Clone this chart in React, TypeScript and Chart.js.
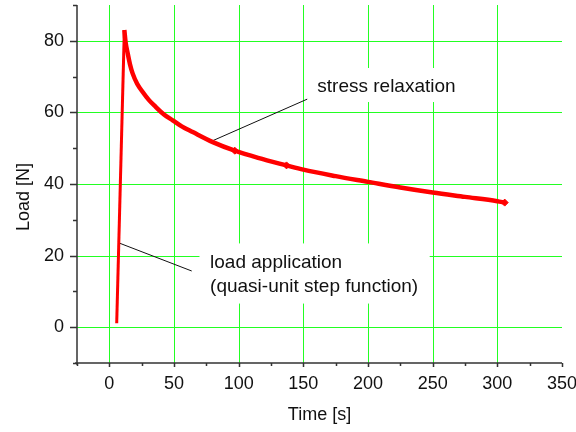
import React, { useEffect, useRef } from "react";
import { Chart, registerables } from "chart.js";

Chart.register(...registerables);

// ---- data ----
const riseTime = [5.7, 11.6];
const riseLoad = [1.1, 83.0];

const decayTime = [11.6, 12.6, 14.2, 16, 18, 21.5, 25.8, 30.5, 36, 42, 49, 56, 64.5, 80, 97, 115, 137, 150, 175, 200, 225, 250, 275, 300, 305.7];
const decayLoad = [83.0, 79.5, 76.5, 73.4, 70.9, 68.0, 65.7, 63.5, 61.5, 59.5, 57.8, 56.1, 54.5, 51.7, 49.3, 47.3, 45.2, 44.0, 42.2, 40.6, 39.0, 37.6, 36.4, 35.2, 34.8];

const markerTime = [97, 137, 305.7];
const markerLoad = [49.3, 45.2, 34.8];

const xMin = -25;
const xMax = 350;
const yMin = -10;
const yMax = 90;
const xMajor = [0, 50, 100, 150, 200, 250, 300];
const yMajor = [0, 20, 40, 60, 80];

const xTitle = "Time [s]";
const yTitle = "Load [N]";

const noteRelaxation = "stress relaxation";
const noteLoad = ["load application", "(quasi-unit step function)"];

const FONT = "'Liberation Sans', Arial, sans-serif";
const GRID = "#22ff22";
const AXIS = "#333333";

const toPts = (xs: number[], ys: number[]) => xs.map((x, i) => ({ x, y: ys[i] }));

const annotationPlugin = {
  id: "annotations",
  beforeDatasetsDraw(chart: any) {
    const { ctx, scales, chartArea } = chart;
    const xs = scales.x;
    const ys = scales.y;
    const px = (v: number) => xs.getPixelForValue(v);
    const py = (v: number) => ys.getPixelForValue(v);
    ctx.save();
    // grid
    ctx.strokeStyle = GRID;
    ctx.lineWidth = 1;
    ctx.beginPath();
    xMajor.forEach((v) => {
      const x = Math.round(px(v)) + 0.5;
      ctx.moveTo(x, chartArea.top);
      ctx.lineTo(x, chartArea.bottom);
    });
    yMajor.forEach((v) => {
      const y = Math.round(py(v)) + 0.5;
      ctx.moveTo(chartArea.left, y);
      ctx.lineTo(chartArea.right, y);
    });
    ctx.stroke();

    // white boxes behind notes
    ctx.fillStyle = "#ffffff";
    ctx.fillRect(px(69.7), py(23.4), px(247.7) - px(69.7), py(6.6) - py(23.4));
    ctx.fillRect(px(151.7), py(72.4), px(278.6) - px(151.7), py(62.9) - py(72.4));
    // text
    ctx.fillStyle = "#111111";
    ctx.font = `19px ${FONT}`;
    ctx.textBaseline = "middle";
    ctx.textAlign = "left";
    ctx.fillText(noteRelaxation, px(160.8), py(67.1));
    ctx.fillText(noteLoad[0], px(77.9), py(17.9));
    ctx.fillText(noteLoad[1], px(77.9), py(11.2));
    // pointer lines
    ctx.strokeStyle = "#111111";
    ctx.lineWidth = 1;
    ctx.beginPath();
    ctx.moveTo(px(7.7), py(23.5));
    ctx.lineTo(px(63.7), py(15.7));
    ctx.moveTo(px(78.7), py(51.9));
    ctx.lineTo(px(153), py(63.7));
    ctx.stroke();

    // axes lines
    ctx.strokeStyle = AXIS;
    ctx.lineWidth = 1.5;
    ctx.beginPath();
    ctx.moveTo(chartArea.left, chartArea.top);
    ctx.lineTo(chartArea.left, chartArea.bottom + 2);
    ctx.moveTo(chartArea.left - 2, chartArea.bottom);
    ctx.lineTo(chartArea.right, chartArea.bottom);
    // tick marks (outward)
    xs.ticks.forEach((t: any) => {
      const x = Math.round(px(t.value)) + 0.5;
      const major = t.value % 50 === 0;
      ctx.moveTo(x, chartArea.bottom);
      ctx.lineTo(x, chartArea.bottom + (major ? 4 : 3));
    });
    ys.ticks.forEach((t: any) => {
      const y = Math.round(py(t.value)) + 0.5;
      const major = t.value % 20 === 0;
      ctx.moveTo(chartArea.left, y);
      ctx.lineTo(chartArea.left - (major ? 7 : 4), y);
    });
    ctx.stroke();

    // y title
    ctx.fillStyle = "#111111";
    ctx.font = `18px ${FONT}`;
    ctx.textAlign = "center";
    ctx.textBaseline = "middle";
    ctx.translate(24, (chartArea.top + chartArea.bottom) / 2 + 13);
    ctx.rotate(-Math.PI / 2);
    ctx.fillText(yTitle, 0, 0);
    ctx.restore();
  },
};

export default function App() {
  const ref = useRef<HTMLCanvasElement | null>(null);
  useEffect(() => {
    if (!ref.current) return;
    const chart = new Chart(ref.current, {
      type: "scatter",
      data: {
        datasets: [
          {
            data: toPts(riseTime, riseLoad),
            showLine: true,
            borderColor: "#ff0000",
            backgroundColor: "#ff0000",
            borderWidth: 3,
            pointRadius: 0,
            tension: 0,
          },
          {
            data: toPts(decayTime, decayLoad),
            showLine: true,
            borderColor: "#ff0000",
            backgroundColor: "#ff0000",
            borderWidth: 4.5,
            pointRadius: 0,
            cubicInterpolationMode: "monotone",
            borderJoinStyle: "round",
          },
          {
            data: toPts(markerTime, markerLoad),
            showLine: false,
            borderColor: "#ff0000",
            backgroundColor: "#ff0000",
            pointStyle: "rectRot",
            pointRadius: 3.5,
            borderWidth: 1,
          },
        ],
      },
      options: {
        responsive: false,
        animation: false,
        devicePixelRatio: 1,
        layout: { padding: { top: 5, right: 14, left: 0, bottom: 0 } },
        plugins: {
          legend: { display: false },
          tooltip: { enabled: false },
        },
        scales: {
          x: {
            type: "linear",
            min: xMin,
            max: xMax,
            afterFit: (s: any) => {
              s.height = 69;
              s.paddingLeft = 0;
              s.paddingRight = 0;
            },
            ticks: {
              stepSize: 25,
              autoSkip: false,
              maxRotation: 0,
              padding: 10,
              color: "#111111",
              font: { family: FONT, size: 18 },
              callback: (v: any) => (Number(v) % 50 === 0 ? String(v) : ""),
            },
            grid: { display: false, drawTicks: false },
            border: { display: false },
            title: {
              display: true,
              text: xTitle,
              color: "#111111",
              font: { family: FONT, size: 18 },
              padding: { top: 6, bottom: 6 },
            },
          },
          y: {
            type: "linear",
            min: yMin,
            max: yMax,
            afterFit: (s: any) => {
              s.width = 77;
              s.paddingTop = 0;
              s.paddingBottom = 0;
            },
            ticks: {
              stepSize: 10,
              autoSkip: false,
              padding: 13,
              color: "#111111",
              font: { family: FONT, size: 18 },
              callback: (v: any) => (Number(v) % 20 === 0 && Number(v) >= 0 && Number(v) <= 80 ? String(v) : ""),
            },
            grid: { display: false, drawTicks: false },
            border: { display: false },
          },
        },
      },
      plugins: [annotationPlugin],
    });
    return () => chart.destroy();
  }, []);
  return (
    <div style={{ position: "fixed", left: 0, top: 0, width: 576, height: 432, background: "#fff" }}>
      <canvas ref={ref} width={576} height={432} style={{ width: 576, height: 432 }} />
    </div>
  );
}
